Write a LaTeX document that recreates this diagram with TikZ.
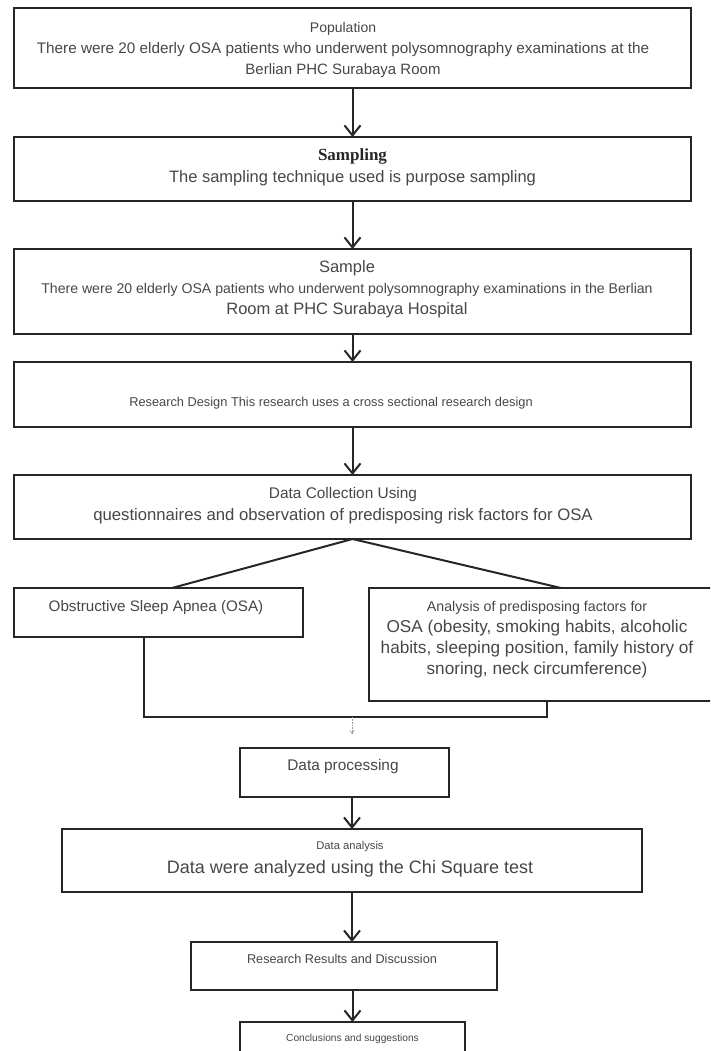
\documentclass[tikz,border=0pt]{standalone}
\usepackage{fontspec}
\setmainfont{Liberation Sans}
\newfontfamily\serifbf{Liberation Serif}
\usetikzlibrary{arrows.meta}
\definecolor{edge}{HTML}{262626}
\definecolor{ink}{HTML}{474747}
\tikzset{
  boxnode/.style={draw=edge, line width=2pt, fill=white, inner sep=0pt, outer sep=0pt, anchor=north west},
  txt/.style={text=ink, inner sep=0pt, align=center},
  arr/.style={draw=edge, line width=2pt, -{Straight Barb[length=10pt,width=16pt,line width=2pt]}},
  link/.style={draw=edge, line width=2pt},
  faint/.style={draw=ink!55, line width=0.6pt, densely dotted, -{Straight Barb[length=3pt,width=4pt,line width=0.6pt]}},
}
\begin{document}
\begin{tikzpicture}[x=1pt, y=-1pt]
  \fill[white] (0,0) rectangle (710,1051);
  \useasboundingbox (0,0) rectangle (710,1051);
  \clip (0,0) rectangle (710,1051);

  % boxes
  \node[boxnode, minimum width=677pt, minimum height=80pt] (b1) at (14,8) {};
  \node[boxnode, minimum width=677pt, minimum height=64pt] (b2) at (14,137) {};
  \node[boxnode, minimum width=677pt, minimum height=85pt] (b3) at (14,249) {};
  \node[boxnode, minimum width=677pt, minimum height=65pt] (b4) at (14,362) {};
  \node[boxnode, minimum width=677pt, minimum height=64pt] (b5) at (14,475) {};
  \node[boxnode, minimum width=289pt, minimum height=49pt] (osa) at (14,588) {};
  \node[boxnode, minimum width=350pt, minimum height=113pt] (ana) at (369,588) {};
  \node[boxnode, minimum width=209pt, minimum height=49pt] (proc) at (240,748) {};
  \node[boxnode, minimum width=580pt, minimum height=63pt] (anl) at (62,829) {};
  \node[boxnode, minimum width=306pt, minimum height=48pt] (res) at (191,942) {};
  \node[boxnode, minimum width=225pt, minimum height=50pt] (conc) at (240,1022) {};

  % texts
  \node[txt, font=\fontsize{15.3}{21}\selectfont] (t1) at (343,50)
    {{\fontsize{14}{21}\selectfont Population}\\
     There were 20 elderly OSA patients who underwent polysomnography examinations at the\\
     {\fontsize{15}{21}\selectfont Berlian PHC Surabaya Room}};
  \node[txt, font=\fontsize{16.5}{22}\selectfont] (t2) at (352.5,167)
    {{\serifbf\bfseries\color{black!85}\fontsize{17}{22}\selectfont Sampling}\\
     The sampling technique used is purpose sampling};
  \node[txt, font=\fontsize{16.5}{21}\selectfont] (t3) at (347,289)
    {Sample\\
     {\fontsize{14.1}{21}\selectfont There were 20 elderly OSA patients who underwent polysomnography examinations in the Berlian}\\
     Room at PHC Surabaya Hospital};
  \node[txt, font=\fontsize{12.8}{15}\selectfont] (t4) at (331,403)
    {Research Design This research uses a cross sectional research design};
  \node[txt, font=\fontsize{16.7}{22}\selectfont] (t5) at (343,506)
    {{\fontsize{15.4}{22}\selectfont Data Collection Using}\\
     questionnaires and observation of predisposing risk factors for OSA};
  \node[txt, font=\fontsize{15.2}{18}\selectfont] (t6) at (156,608)
    {Obstructive Sleep Apnea (OSA)};
  \node[txt, font=\fontsize{17.2}{21}\selectfont] (t7) at (537,640)
    {{\fontsize{14.2}{21}\selectfont Analysis of predisposing factors for}\\
     OSA (obesity, smoking habits, alcoholic\\
     habits, sleeping position, family history of\\
     snoring, neck circumference)};
  \node[txt, font=\fontsize{15.4}{18}\selectfont] (t8) at (343,767)
    {Data processing};
  \node[txt, font=\fontsize{18}{24}\selectfont] (t9) at (350,859)
    {{\fontsize{11.2}{24}\selectfont Data analysis}\\
     Data were analyzed using the Chi Square test};
  \node[txt, font=\fontsize{12.7}{15}\selectfont] (t10) at (342,959)
    {Research Results and Discussion};
  \node[txt, font=\fontsize{10.2}{13}\selectfont] (t11) at (352.5,1039)
    {Conclusions and suggestions};

  % junction coordinates
  \coordinate (dL) at (172,588);
  \coordinate (dR) at (561,588);
  \coordinate (mL) at (144,717);
  \coordinate (mR) at (547,717);
  \coordinate (mM) at (352,717);
  \coordinate (mMe) at (352,734);

  % connectors
  \draw[arr] (b1.south) -- (b2.north);
  \draw[arr] (b2.south) -- (b3.north);
  \draw[arr] (b3.south) -- (b4.north);
  \draw[arr] (b4.south) -- (b5.north);
  \draw[link] (b5.south) -- (dL);
  \draw[link] (b5.south) -- (dR);
  \draw[link] (osa.south -| mL) -- (mL) -- (mR) -- (ana.south -| mR);
  \draw[faint] (mM) -- (mMe);
  \draw[arr] (proc.south -| anl.north) -- (anl.north);
  \draw[arr] (anl.south) -- (res.north -| anl.south);
  \draw[arr] (res.south -| conc.north) -- (conc.north);
\end{tikzpicture}
\end{document}
